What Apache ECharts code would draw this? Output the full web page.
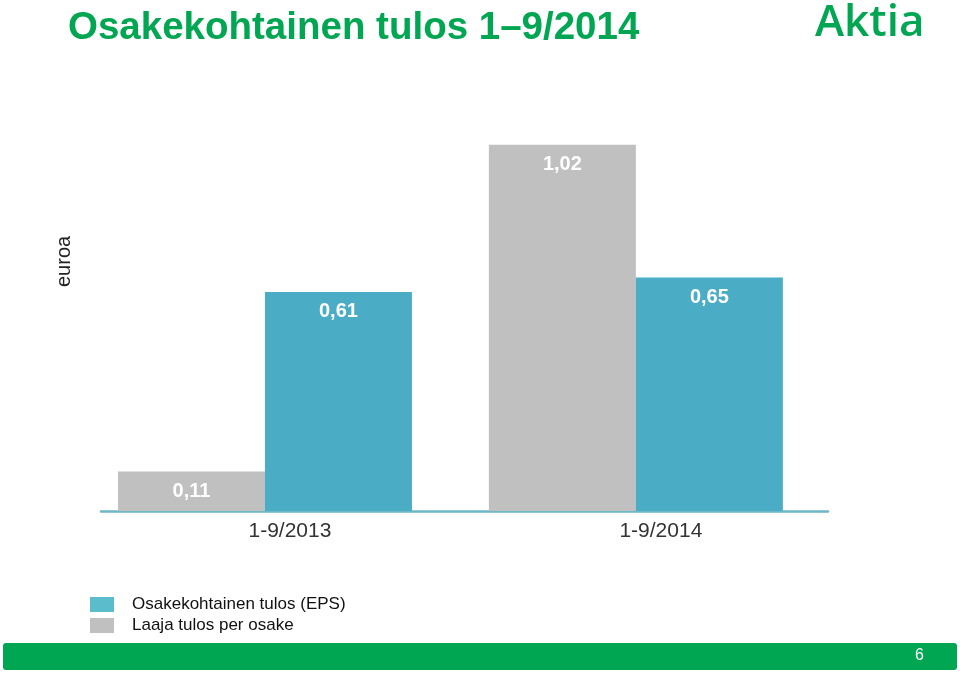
<!DOCTYPE html>
<html>
<head>
<meta charset="utf-8">
<script src="https://cdn.jsdelivr.net/npm/echarts@6/dist/echarts.min.js"></script>
<style>
  html, body { margin: 0; padding: 0; background: #fff; }
  #chart { width: 960px; height: 674px; }
</style>
</head>
<body>
<div id="chart"></div>
<script>
const categories  = ['1-9/2013', '1-9/2014']
const laajaValues = [0.11, 1.02]   // Laaja tulos per osake
const epsValues   = [0.61, 0.65]   // Osakekohtainen tulos (EPS)

const GREEN = '#00a651'
const GREY  = '#c0c0c0'
const BLUE  = '#4aacc5'
const FONT  = '"Liberation Sans", Arial, sans-serif'

const fmt = p => p.value[1].toFixed(2).replace('.', ',')
const valLabel = { show: true, position: 'insideTop', distance: 10, color: '#fff',
  fontFamily: FONT, fontWeight: 'bold', fontSize: 20, formatter: fmt }

const chart = echarts.init(document.getElementById('chart'), null, { renderer: 'canvas' })
chart.setOption({
  backgroundColor: '#fff',
  animation: false,
  title: { text: 'Osakekohtainen tulos 1–9/2014', left: 63, top: 4,
    textStyle: { color: GREEN, fontFamily: FONT, fontWeight: 'bold', fontSize: 38.5 } },
  grid: { left: 101, right: 132, top: 116, height: 395 },
  legend: { orient: 'vertical', left: 85, top: 591, itemWidth: 24, itemHeight: 15, itemGap: 4,
    icon: 'rect',
    data: [
      { name: 'Osakekohtainen tulos (EPS)', itemStyle: { color: '#5bbccc' } },
      { name: 'Laaja tulos per osake', itemStyle: { color: GREY } },
    ],
    textStyle: { color: '#111', fontFamily: FONT, fontSize: 17, padding: [0, 0, 0, 13] } },
  xAxis: { type: 'value', min: -0.442, max: 1.518,
    splitLine: { show: false }, axisTick: { show: false },
    axisLine: { show: true, lineStyle: { color: '#6cb8c4', width: 2.5 } },
    axisLabel: { customValues: [0, 1], formatter: v => categories[Math.round(v)],
      color: '#333', fontFamily: FONT, fontSize: 21, margin: 10, padding: [0, 0, 0, 50] } },
  yAxis: { type: 'value', min: 0, max: 1.1, show: false },
  series: [
    { name: 'Laaja tulos per osake', type: 'bar', barWidth: 147, barGap: '0%',
      data: laajaValues.map((v, i) => [i, v]),
      itemStyle: { color: GREY }, label: valLabel },
    { name: 'Osakekohtainen tulos (EPS)', type: 'bar', barWidth: 147, barGap: '0%',
      data: epsValues.map((v, i) => [i, v]),
      itemStyle: { color: BLUE }, label: valLabel },
  ],
  graphic: [
    { type: 'text', left: 815, top: 1,
      style: { text: 'Aktia', fill: GREEN, font: '600 44px "Open Sans", sans-serif' } },
    { type: 'text', x: 54, y: 287, rotation: Math.PI / 2,
      style: { text: 'euroa', fill: '#222', font: '20px ' + FONT } },
    { type: 'rect', shape: { x: 3, y: 643, width: 954, height: 27, r: 3 },
      style: { fill: GREEN } },
    { type: 'text', x: 915, y: 648,
      style: { text: '6', fill: '#fff', font: '16px ' + FONT } },
  ],
})
</script>
</body>
</html>
